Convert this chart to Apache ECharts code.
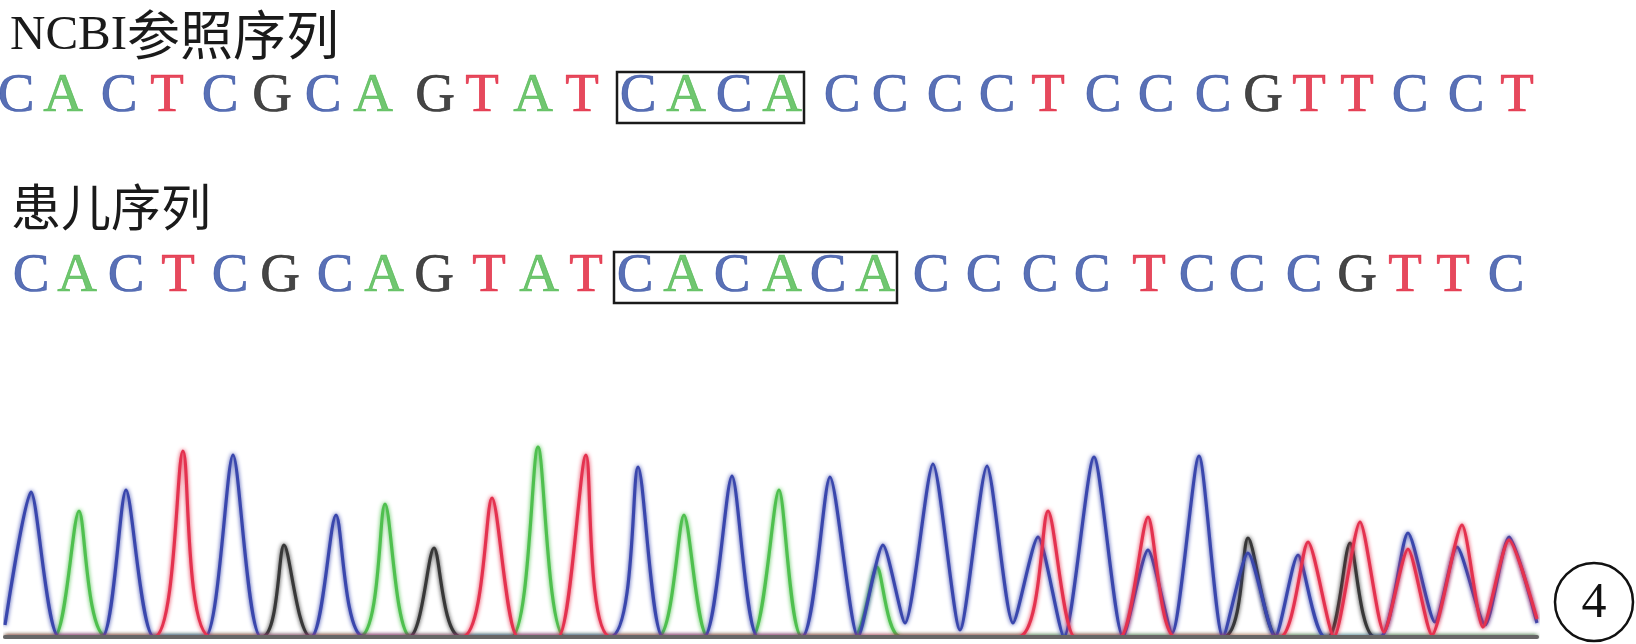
<!DOCTYPE html>
<html>
<head>
<meta charset="utf-8">
<script src="https://cdn.jsdelivr.net/npm/echarts@6/dist/echarts.min.js"></script>
<style>
html,body{margin:0;padding:0;background:#fff;}
#c{width:1636px;height:644px;}
</style>
</head>
<body>
<div id="c"></div>
<script>
// ---------- data ----------
const refTitleLatin = 'NCBI';
const refTitleCjk = '参照序列';
const patTitle = '患儿序列';
const refBases = ['C','A','C','T','C','G','C','A','G','T','A','T','C','A','C','A','C','C','C','C','T','C','C','C','G','T','T','C','C','T'];
const refPos   = [16,63,119,167,220,272,323,373,435,482,533,582,638,686,734,782,842,890,945,997,1048,1103,1156,1213,1263,1309,1357,1410,1466,1517];
const patBases = ['C','A','C','T','C','G','C','A','G','T','A','T','C','A','C','A','C','A','C','C','C','C','T','C','C','C','G','T','T','C'];
const patPos   = [31,77,126,178,230,280,335,384,434,489,539,586,635,683,732,782,828,875,931,984,1040,1092,1149,1197,1247,1304,1357,1405,1453,1506];
const refBox = [12, 15];   // boxed letters (index range) in reference row
const patBox = [12, 17];   // boxed letters in patient row
const circleLabel = '4';

// chromatogram traces: [scan position, signal]
const blueTrace = [[5,12],[31,145],[59,0],[102,0],[126,147],[154,0],[205,0],[233,182],[261,0],[311,0],[336,122],[364,0],[610,0],[638,170],[663,0],[704,0],[732,161],[758,0],[802,0],[830,160],[858,0],[883,92],[905,14],[933,173],[960,7],[987,171],[1013,14],[1038,100],[1064,0],[1094,180],[1123,0],[1148,87],[1172,4],[1199,181],[1223,0],[1248,84],[1275,0],[1298,82],[1325,0],[1380,0],[1408,104],[1435,15],[1457,90],[1485,12],[1509,100],[1537,14]];
const redTrace = [[5,0],[154,0],[183,186],[211,0],[462,0],[492,139],[518,0],[558,0],[586,182],[611,0],[1018,0],[1048,126],[1075,0],[1120,0],[1148,120],[1175,0],[1280,0],[1308,95],[1334,0],[1360,115],[1384,5],[1408,88],[1432,2],[1462,112],[1483,10],[1509,97],[1537,18]];
const blackTrace = [[5,0],[262,0],[284,92],[311,0],[409,0],[434,89],[461,0],[1223,0],[1248,99],[1277,0],[1328,0],[1350,94],[1375,0],[1537,0]];
const greenTrace = [[5,0],[54,0],[79,126],[107,0],[359,0],[385,133],[411,0],[511,0],[538,190],[565,0],[658,0],[684,122],[708,0],[752,0],[779,147],[802,0],[854,0],[877,70],[901,0],[1537,0]];

// ---------- styles ----------
const baseColor = {A:'#4cb84c', C:'#2f4ca2', G:'#161616', T:'#e01b35'};
const traceColor = {A:'#4fc04f', C:'#3a47ad', G:'#383838', T:'#e4324f'};
const serif = '"Liberation Serif", "DejaVu Serif", serif';
const cjk = '"Noto Sans CJK SC", sans-serif';

const chart = echarts.init(document.getElementById('c'), null, {renderer:'canvas'});

function letterSeries(bases, pos, row){
  return {
    type:'scatter', xAxisIndex:1, yAxisIndex:1, symbolSize:1, silent:true,
    itemStyle:{color:'rgba(0,0,0,0)'},
    label:{show:true, position:'inside', fontFamily:serif, fontSize:55, formatter:p=>p.data.base},
    data: bases.map((b,i)=>({value:[pos[i], row], base:b,
      label:{color:baseColor[b], textBorderColor:baseColor[b], textBorderWidth:0.7}}))
  };
}
function traceSeries(data, base, z){
  return {
    type:'line', xAxisIndex:0, yAxisIndex:0, data:data, showSymbol:false, symbol:'none',
    smooth:0.22, z:z, silent:true,
    lineStyle:{color:traceColor[base], width:3.2, shadowColor:traceColor[base], shadowBlur:4}
  };
}

chart.setOption({
  animation:false,
  grid:[
    {left:5, width:1532, top:437, height:200},
    {left:5, width:1532, top:7, height:360}
  ],
  xAxis:[
    {type:'value', gridIndex:0, min:5, max:1537, z:10,
      axisLine:{show:true, onZero:false, lineStyle:{color:'#666', width:4}},
      axisTick:{show:false}, axisLabel:{show:false}, splitLine:{show:false}},
    {type:'value', gridIndex:1, min:5, max:1537, show:false}
  ],
  yAxis:[
    {type:'value', gridIndex:0, min:0, max:200, show:false},
    {type:'category', gridIndex:1, data:['ref','pat'], inverse:true, show:false}
  ],
  series:[
    traceSeries(greenTrace,'A',2),
    traceSeries(blackTrace,'G',3),
    traceSeries(blueTrace,'C',4),
    traceSeries(redTrace,'T',5),
    letterSeries(refBases, refPos, 'ref'),
    letterSeries(patBases, patPos, 'pat')
  ]
});

function boxFor(pos, range, row){
  const a = chart.convertToPixel({gridIndex:1}, [pos[range[0]], row]);
  const b = chart.convertToPixel({gridIndex:1}, [pos[range[1]], row]);
  const x0 = a[0]-21, x1 = b[0]+22;
  return {type:'rect', shape:{x:x0, y:a[1]-25, width:x1-x0, height:51},
    style:{fill:'none', stroke:'#1a1a1a', lineWidth:2.5}, z:20};
}

chart.setOption({
  graphic:[
    {type:'text', left:10, top:8, style:{
      text:'{a|'+refTitleLatin+'}{b|'+refTitleCjk+'}',
      rich:{a:{fontFamily:serif, fontSize:49, fill:'#1a1a1a', verticalAlign:'bottom'},
            b:{fontFamily:cjk, fontSize:53, fill:'#1a1a1a', verticalAlign:'bottom'}}}},
    {type:'text', left:11, top:182, style:{text:patTitle, fontFamily:cjk, fontSize:50, fill:'#1a1a1a'}},
    boxFor(refPos, refBox, 'ref'),
    boxFor(patPos, patBox, 'pat'),
    {type:'circle', shape:{cx:1594, cy:602, r:39}, style:{fill:'none', stroke:'#111', lineWidth:2.5}},
    {type:'text', x:1594, y:604, style:{text:circleLabel, font:'50px '+serif, fill:'#111', align:'center', verticalAlign:'middle'}}
  ]
});
</script>
</body>
</html>
